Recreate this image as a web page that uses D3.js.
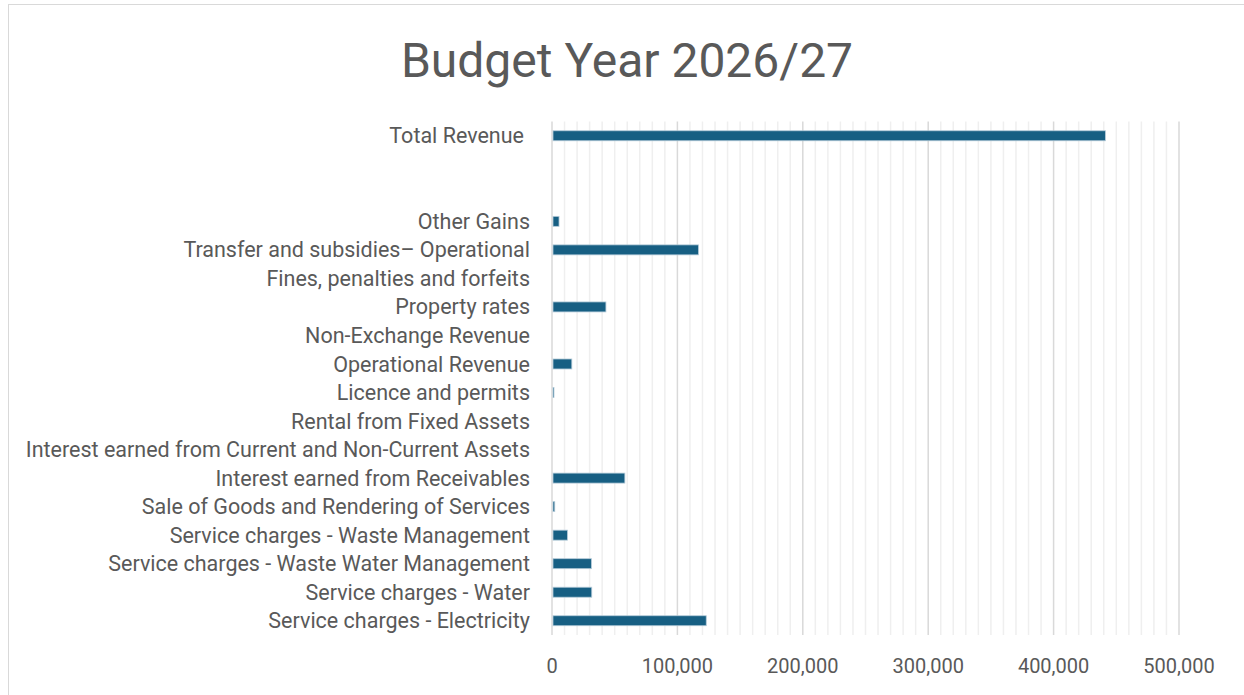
<!DOCTYPE html>
<html>
  <head>
    <meta charset="utf-8">
    <title>Budget Year 2026/27</title>
  </head>
  <style>
    body { margin: 0; background: #fff; font-family: "Roboto", sans-serif; }
    svg { display: block; }
  </style>
  <script src="https://d3js.org/d3.v7.min.js"></script>
  <body>
    <script>
    // categories from bottom to top, blanks keep the gap under Total Revenue
    var categories = [
      "Service charges - Electricity",
      "Service charges - Water",
      "Service charges - Waste Water Management",
      "Service charges - Waste Management",
      "Sale of Goods and Rendering of Services",
      "Interest earned from Receivables",
      "Interest earned from Current and Non-Current Assets",
      "Rental from Fixed Assets",
      "Licence and permits",
      "Operational Revenue",
      "Non-Exchange Revenue",
      "Property rates",
      "Fines, penalties and forfeits",
      "Transfer and subsidies\u2013 Operational",
      "Other Gains",
      "blank1",
      "blank2",
      "Total Revenue"
    ]
    var values = [123000, 31700, 31400, 12300, 2200, 58100, 0, 0, 1400, 15800, 0, 43000, 0, 116800, 5600, null, null, 441300]
    var xTicks = [0, 100000, 200000, 300000, 400000, 500000]
    var title = "Budget Year 2026/27"

    var W = 1244, H = 695
    var margin = { left: 552, right: 65, top: 121.5, bottom: 60 }

    var data = categories.map(function(c, i){ return { c: c, v: values[i] } })

    var svg = d3.select("body").append("svg")
                .attr("width", W)
                .attr("height", H)

    svg.append("rect")
       .attr("x", 8.5).attr("y", 4.5)
       .attr("width", W).attr("height", H)
       .attr("fill", "#fff")
       .attr("stroke", "#d9d9d9")

    svg.append("text")
       .attr("x", 627).attr("y", 77)
       .attr("text-anchor", "middle")
       .attr("font-size", "48px")
       .attr("fill", "#595959")
       .text(title)

    var xScale = d3.scaleLinear()
                   .domain([0, 500000])
                   .range([margin.left, 1179])

    var yScale = d3.scaleBand()
                   .domain(categories)
                   .range([H - margin.bottom, margin.top])
                   .paddingInner(0.65)
                   .paddingOuter(0.325)

    var y0 = margin.top, y1 = H - margin.bottom

    // minor gridlines every 10,000
    svg.append("g").selectAll("line")
       .data(d3.range(0, 500001, 10000).filter(function(d){ return d % 100000 != 0 }))
       .enter().append("line")
       .attr("x1", function(d){ return xScale(d) })
       .attr("x2", function(d){ return xScale(d) })
       .attr("y1", y0).attr("y2", y1)
       .attr("stroke", "#efefef")
       .attr("stroke-width", 1.5)

    // major gridlines
    svg.append("g").selectAll("line")
       .data(xTicks)
       .enter().append("line")
       .attr("x1", function(d){ return xScale(d) })
       .attr("x2", function(d){ return xScale(d) })
       .attr("y1", y0).attr("y2", y1)
       .attr("stroke", "#d9d9d9")
       .attr("stroke-width", 1.5)

    // bars
    svg.append("g").selectAll("rect")
       .data(data.filter(function(d){ return d.v })) 
       .enter().append("rect")
       .attr("x", xScale(0) + 1)
       .attr("y", function(d){ return yScale(d.c) })
       .attr("width", function(d){ return Math.max(1, xScale(d.v) - xScale(0) - 1) })
       .attr("height", yScale.bandwidth())
       .attr("fill", "#175f83")
       .attr("stroke", "#b5cbd9")
       .attr("stroke-width", 0.8)

    // category labels
    svg.append("g").selectAll("text")
       .data(data.filter(function(d){ return d.c.indexOf("blank") != 0 }))
       .enter().append("text")
       .attr("x", function(d){ return d.c == "Total Revenue" ? 524 : 530 })
       .attr("y", function(d){ return yScale(d.c) + yScale.bandwidth() / 2 })
       .attr("dy", "0.35em")
       .attr("text-anchor", "end")
       .attr("font-size", "21.5px")
       .attr("fill", "#595959")
       .text(function(d){ return d.c })

    // x axis labels
    var fmt = d3.format(",")
    svg.append("g").selectAll("text")
       .data(xTicks)
       .enter().append("text")
       .attr("x", function(d){ return xScale(d) })
       .attr("y", 673)
       .attr("text-anchor", "middle")
       .attr("font-size", "20px")
       .attr("fill", "#595959")
       .text(function(d){ return fmt(d) })
    </script>
  </body>
</html>
